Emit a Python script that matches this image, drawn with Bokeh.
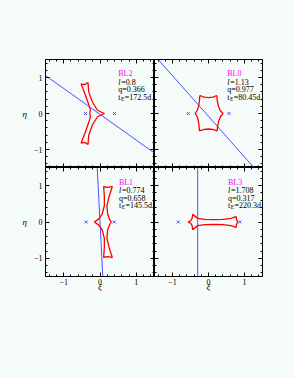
from bokeh.plotting import figure
from bokeh.layouts import gridplot
from bokeh.models import FixedTicker, LinearAxis, Range1d, GlobalInlineStyleSheet
from bokeh.core.properties import value
from bokeh.embed import file_html
from bokeh.resources import INLINE

BG = "#f5fbf8"
FONT = "Liberation Serif"

major_ticks = [-1, 0, 1]
minor_ticks = [-1.4, -1.2, -1.0, -0.8, -0.6, -0.4, -0.2, 0.0, 0.2, 0.4, 0.6, 0.8, 1.0, 1.2, 1.4]
tick_labels = {-1: "\u22121", 0: "0", 1: "1"}

# ---- BL2 (top left) ----
bl2_name = "BL2"
bl2_l, bl2_q, bl2_te = "0.8", "0.366", "172.5"
bl2_cx = [-0.28, -0.265, -0.32, -0.42, -0.52, -0.42, -0.33, -0.31, -0.21, -0.07, 0.12,
          -0.07, -0.21, -0.31, -0.33, -0.42, -0.52, -0.42, -0.32, -0.265, -0.28]
bl2_cy = [0.0, 0.10, 0.28, 0.56, 0.82, 0.80, 0.86, 0.60, 0.32, 0.09, 0.0,
          -0.09, -0.32, -0.60, -0.86, -0.80, -0.82, -0.56, -0.28, -0.10, 0.0]
bl2_lens_x = [-0.40, 0.40]
bl2_lens_y = [0.0, 0.0]
bl2_path_x = [-1.5, 1.5]
bl2_path_y = [1.055, -1.10]
bl2_text_x = 0.50

# ---- BL0 (top right) ----
bl0_name = "BL0"
bl0_l, bl0_q, bl0_te = "1.13", "0.977", "80.45"
bl0_cx = [-0.37, -0.31, -0.27, -0.25, -0.24, -0.12, 0.0, 0.12, 0.23, 0.24, 0.27, 0.32, 0.40,
          0.33, 0.28, 0.25, 0.24, 0.12, 0.0, -0.12, -0.25, -0.26, -0.28, -0.31, -0.37]
bl0_cy = [0.0, 0.09, 0.22, 0.38, 0.50, 0.455, 0.44, 0.455, 0.50, 0.38, 0.22, 0.09, 0.0,
          -0.09, -0.22, -0.37, -0.48, -0.44, -0.43, -0.44, -0.48, -0.37, -0.22, -0.09, 0.0]
bl0_lens_x = [-0.56, 0.57]
bl0_lens_y = [0.0, 0.0]
bl0_path_x = [-1.40, 1.26]
bl0_path_y = [1.5, -1.5]
bl0_text_x = 0.52

# ---- BL1 (bottom left) ----
bl1_name = "BL1"
bl1_l, bl1_q, bl1_te = "0.774", "0.658", "145.5"
bl1_cx = [-0.16, -0.04, 0.06, 0.12, 0.12, 0.10, 0.22, 0.34, 0.25, 0.19, 0.21, 0.26, 0.31,
          0.26, 0.21, 0.19, 0.25, 0.34, 0.22, 0.10, 0.12, 0.12, 0.06, -0.04, -0.16]
bl1_cy = [0.0, 0.08, 0.22, 0.45, 0.70, 0.97, 0.955, 0.98, 0.70, 0.45, 0.22, 0.08, 0.0,
          -0.08, -0.22, -0.45, -0.70, -0.98, -0.955, -0.97, -0.70, -0.45, -0.22, -0.08, 0.0]
bl1_lens_x = [-0.38, 0.39]
bl1_lens_y = [0.0, 0.0]
bl1_path_x = [-0.077, 0.077]
bl1_path_y = [1.5, -1.5]
bl1_text_x = 0.52

# ---- BL3 (bottom right) ----
bl3_name = "BL3"
bl3_l, bl3_q, bl3_te = "1.708", "0.317", "220.3"
bl3_cx = [-0.57, -0.49, -0.455, -0.44, -0.30, -0.10, 0.15, 0.40, 0.62, 0.77, 0.78, 0.81,
          0.78, 0.77, 0.62, 0.40, 0.15, -0.10, -0.30, -0.44, -0.455, -0.49, -0.57]
bl3_cy = [0.0, 0.04, 0.10, 0.21, 0.10, 0.07, 0.065, 0.075, 0.10, 0.15, 0.06, 0.0,
          -0.06, -0.15, -0.10, -0.075, -0.065, -0.07, -0.10, -0.21, -0.10, -0.04, 0.0]
bl3_lens_x = [-0.84, 0.87]
bl3_lens_y = [0.0, 0.0]
bl3_path_x = [-0.30, -0.30]
bl3_path_y = [1.5, -1.5]
bl3_text_x = 0.54

text_rows_y = [1.10, 0.855, 0.66, 0.455]


def add_axes(p, left_labels, bottom_labels):
    for side in ["left", "right", "above", "below"]:
        ax = LinearAxis(ticker=FixedTicker(ticks=major_ticks, minor_ticks=minor_ticks))
        ax.major_tick_in = 4
        ax.major_tick_out = 0
        ax.minor_tick_in = 2
        ax.minor_tick_out = 0
        ax.axis_line_color = "black"
        ax.major_tick_line_color = "black"
        ax.minor_tick_line_color = "black"
        show = (side == "left" and left_labels) or (side == "below" and bottom_labels)
        if show:
            ax.major_label_overrides = tick_labels
            ax.major_label_text_font = FONT
            ax.major_label_text_font_size = "8px"
            ax.major_label_text_color = "black"
            ax.major_label_standoff = 3 if side == "left" else 2
            ax.axis_label = "\u03b7" if side == "left" else "\u03be"
            ax.axis_label_text_font = FONT
            ax.axis_label_text_font_style = "italic"
            ax.axis_label_text_font_size = "9px"
            ax.axis_label_text_color = "black"
            ax.axis_label_standoff = 4 if side == "left" else -6
            if side == "left":
                ax.axis_label_orientation = "horizontal"
        else:
            ax.major_label_text_font_size = "0px"
            ax.major_label_text_color = None
            ax.major_label_standoff = 0
            ax.axis_label = None
        p.add_layout(ax, side)


def make_panel(name, l, q, te, cx, cy, lx, ly, px, py, tx, fw, fh, bl, bt, br, bb,
               left_labels, bottom_labels):
    p = figure(frame_width=fw, frame_height=fh,
               x_range=Range1d(-1.5, 1.5), y_range=Range1d(-1.5, 1.5),
               x_axis_location=None, y_axis_location=None,
               output_backend="svg", toolbar_location=None,
               min_border_left=bl, min_border_top=bt, min_border_right=br, min_border_bottom=bb,
               background_fill_color=BG, border_fill_color=BG)
    p.grid.visible = False
    p.outline_line_color = "black"
    p.outline_line_width = 1
    add_axes(p, left_labels, bottom_labels)

    p.line(px, py, line_color="#4f4fff", line_width=1)
    p.line(cx, cy, line_color="#ff0000", line_width=1.3)
    p.scatter(lx, ly, marker="x", size=4, line_color="#4f4fff", line_width=1)

    p.text(x=[tx], y=[text_rows_y[0]], text=[name], text_font=value(FONT),
           text_font_size="8px", text_color="#ff00ff", text_baseline="middle")
    p.text(x=[tx], y=[text_rows_y[1]], text=["l"], text_font=value(FONT),
           text_font_style="italic", text_font_size="8px", text_color="black",
           text_baseline="middle")
    p.text(x=[tx], y=[text_rows_y[1]], text=["=" + l], text_font=value(FONT),
           text_font_size="8px", text_color="black", text_baseline="middle", x_offset=3)
    p.text(x=[tx], y=[text_rows_y[2]], text=["q=" + q], text_font=value(FONT),
           text_font_size="8px", text_color="black", text_baseline="middle")
    p.text(x=[tx], y=[text_rows_y[3]], text=["t"], text_font=value(FONT),
           text_font_size="8px", text_color="black", text_baseline="middle")
    p.text(x=[tx], y=[text_rows_y[3]], text=["E"], text_font=value(FONT),
           text_font_size="5.5px", text_color="black", text_baseline="middle",
           x_offset=2.8, y_offset=2)
    p.text(x=[tx], y=[text_rows_y[3]], text=["=" + te + "d"], text_font=value(FONT),
           text_font_size="8px", text_color="black", text_baseline="middle", x_offset=6.5)
    return p


p1 = make_panel(bl2_name, bl2_l, bl2_q, bl2_te, bl2_cx, bl2_cy, bl2_lens_x, bl2_lens_y,
                bl2_path_x, bl2_path_y, bl2_text_x, 109, 108, 45, 59, 0, 0, True, False)
p2 = make_panel(bl0_name, bl0_l, bl0_q, bl0_te, bl0_cx, bl0_cy, bl0_lens_x, bl0_lens_y,
                bl0_path_x, bl0_path_y, bl0_text_x, 108, 108, 0, 59, 20, 0, False, False)
p3 = make_panel(bl1_name, bl1_l, bl1_q, bl1_te, bl1_cx, bl1_cy, bl1_lens_x, bl1_lens_y,
                bl1_path_x, bl1_path_y, bl1_text_x, 109, 109, 45, 0, 0, 40, True, True)
p4 = make_panel(bl3_name, bl3_l, bl3_q, bl3_te, bl3_cx, bl3_cy, bl3_lens_x, bl3_lens_y,
                bl3_path_x, bl3_path_y, bl3_text_x, 108, 109, 0, 0, 20, 40, False, True)

grid = gridplot([[p1, p2], [p3, p4]], toolbar_location=None)
grid.stylesheets = [GlobalInlineStyleSheet(css="body { background-color: #f5fbf8; }")]

open("out.html", "w").write(file_html(grid, INLINE))
